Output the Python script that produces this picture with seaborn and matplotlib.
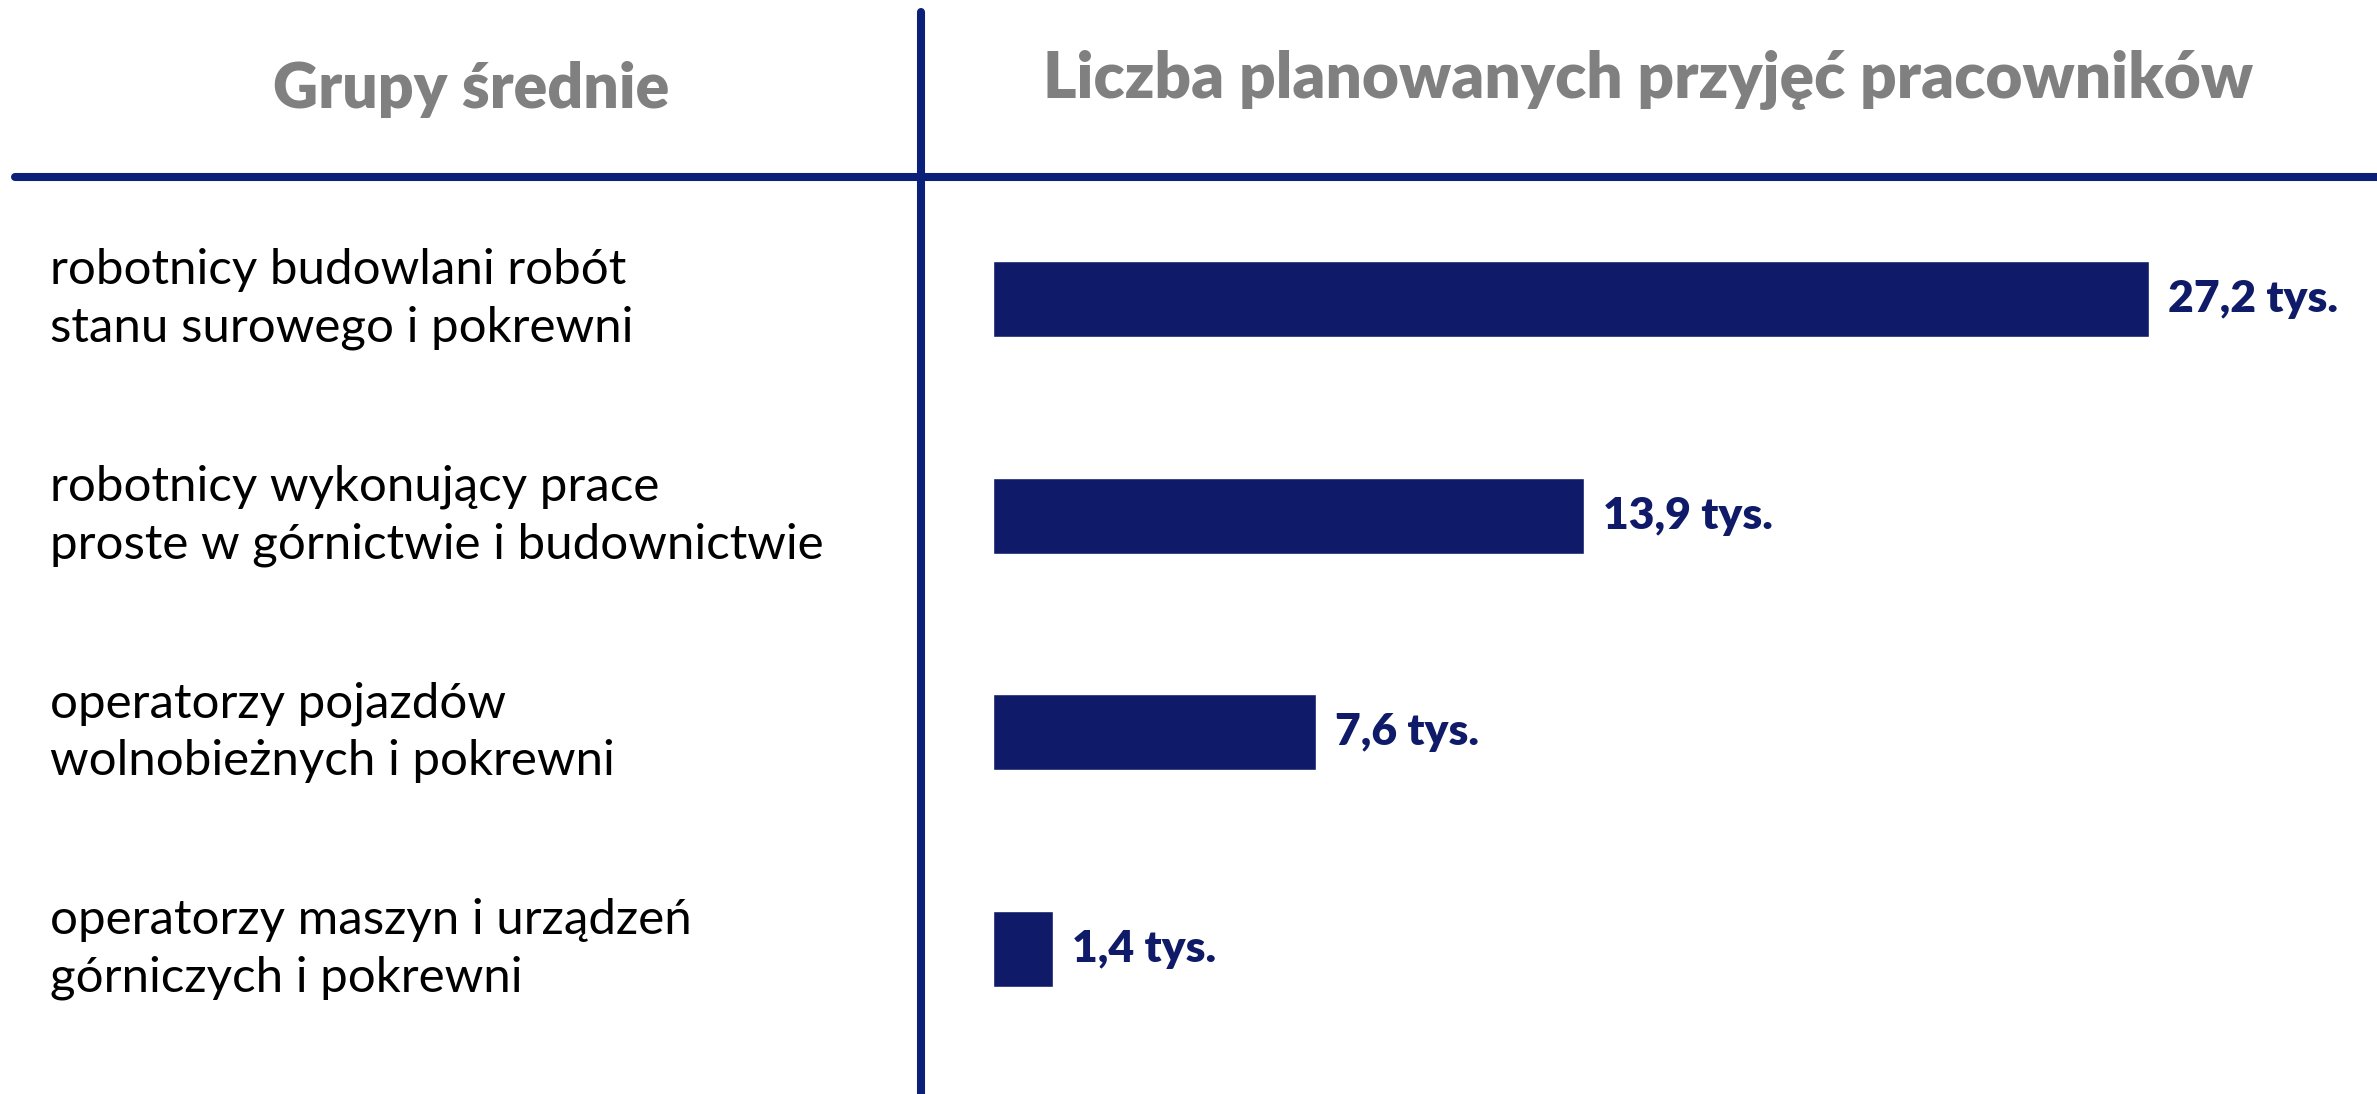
import matplotlib
matplotlib.use("Agg")
import matplotlib.pyplot as plt
from matplotlib.lines import Line2D
import seaborn as sns
import pandas as pd

# data
categories = [
    "robotnicy budowlani robót\nstanu surowego i pokrewni",
    "robotnicy wykonujący prace\nproste w górnictwie i budownictwie",
    "operatorzy pojazdów\nwolnobieżnych i pokrewni",
    "operatorzy maszyn i urządzeń\ngórniczych i pokrewni",
]
values = [27.2, 13.9, 7.6, 1.4]
value_labels = [f"{v:.1f}".replace(".", ",") + " tys." for v in values]

header_left = "Grupy średnie"
header_right = "Liczba planowanych przyjęć pracowników"

navy = "#0f1b69"
line_blue = "#0b2079"
grey = "#808080"

sns.set_theme(style="white")
plt.rcParams["font.family"] = ["Lato", "DejaVu Sans"]

df = pd.DataFrame({"grupa": categories, "liczba": values})

W, H = 2377, 1094
fig = plt.figure(figsize=(W / 100, H / 100), dpi=100)
ax = fig.add_axes([993 / W, 0, 1 - 993 / W, 1 - 177 / H])

sns.barplot(data=df, x="liczba", y="grupa", orient="h", color=navy,
            width=0.35, saturation=1, ax=ax)

ax.set_xlim(0, (W - 993) / 42.5)
ax.set_ylim(3.669, -0.563)
ax.set_xlabel("")
ax.set_ylabel("")
ax.set_xticks([])
sns.despine(ax=ax, left=True, bottom=True)

# category labels left-aligned at the far left
ax.tick_params(axis="y", length=0, pad=(993 - 50) * 0.72)
for lab in ax.get_yticklabels():
    lab.set_horizontalalignment("left")
    lab.set_verticalalignment("center")
    lab.set_fontsize(35.5)
    lab.set_color("black")
    lab.set_linespacing(1.38)

ax.bar_label(ax.containers[0], labels=value_labels, padding=14,
             fontsize=32, fontweight="heavy", color=navy)

# headers
fig.text(471 / W, 1 - 108 / H, header_left, ha="center", va="baseline",
         fontsize=45, fontweight="heavy", color=grey)
fig.text(1648 / W, 1 - 98 / H, header_right, ha="center", va="baseline",
         fontsize=46, fontweight="heavy", color=grey)

# divider lines
fig.add_artist(Line2D([15 / W, 1], [1 - 177 / H, 1 - 177 / H],
                      color=line_blue, lw=5.8))
fig.add_artist(Line2D([921 / W, 921 / W], [0, 1 - 12 / H],
                      color=line_blue, lw=5.8))

fig.savefig("out.png", dpi=100)
